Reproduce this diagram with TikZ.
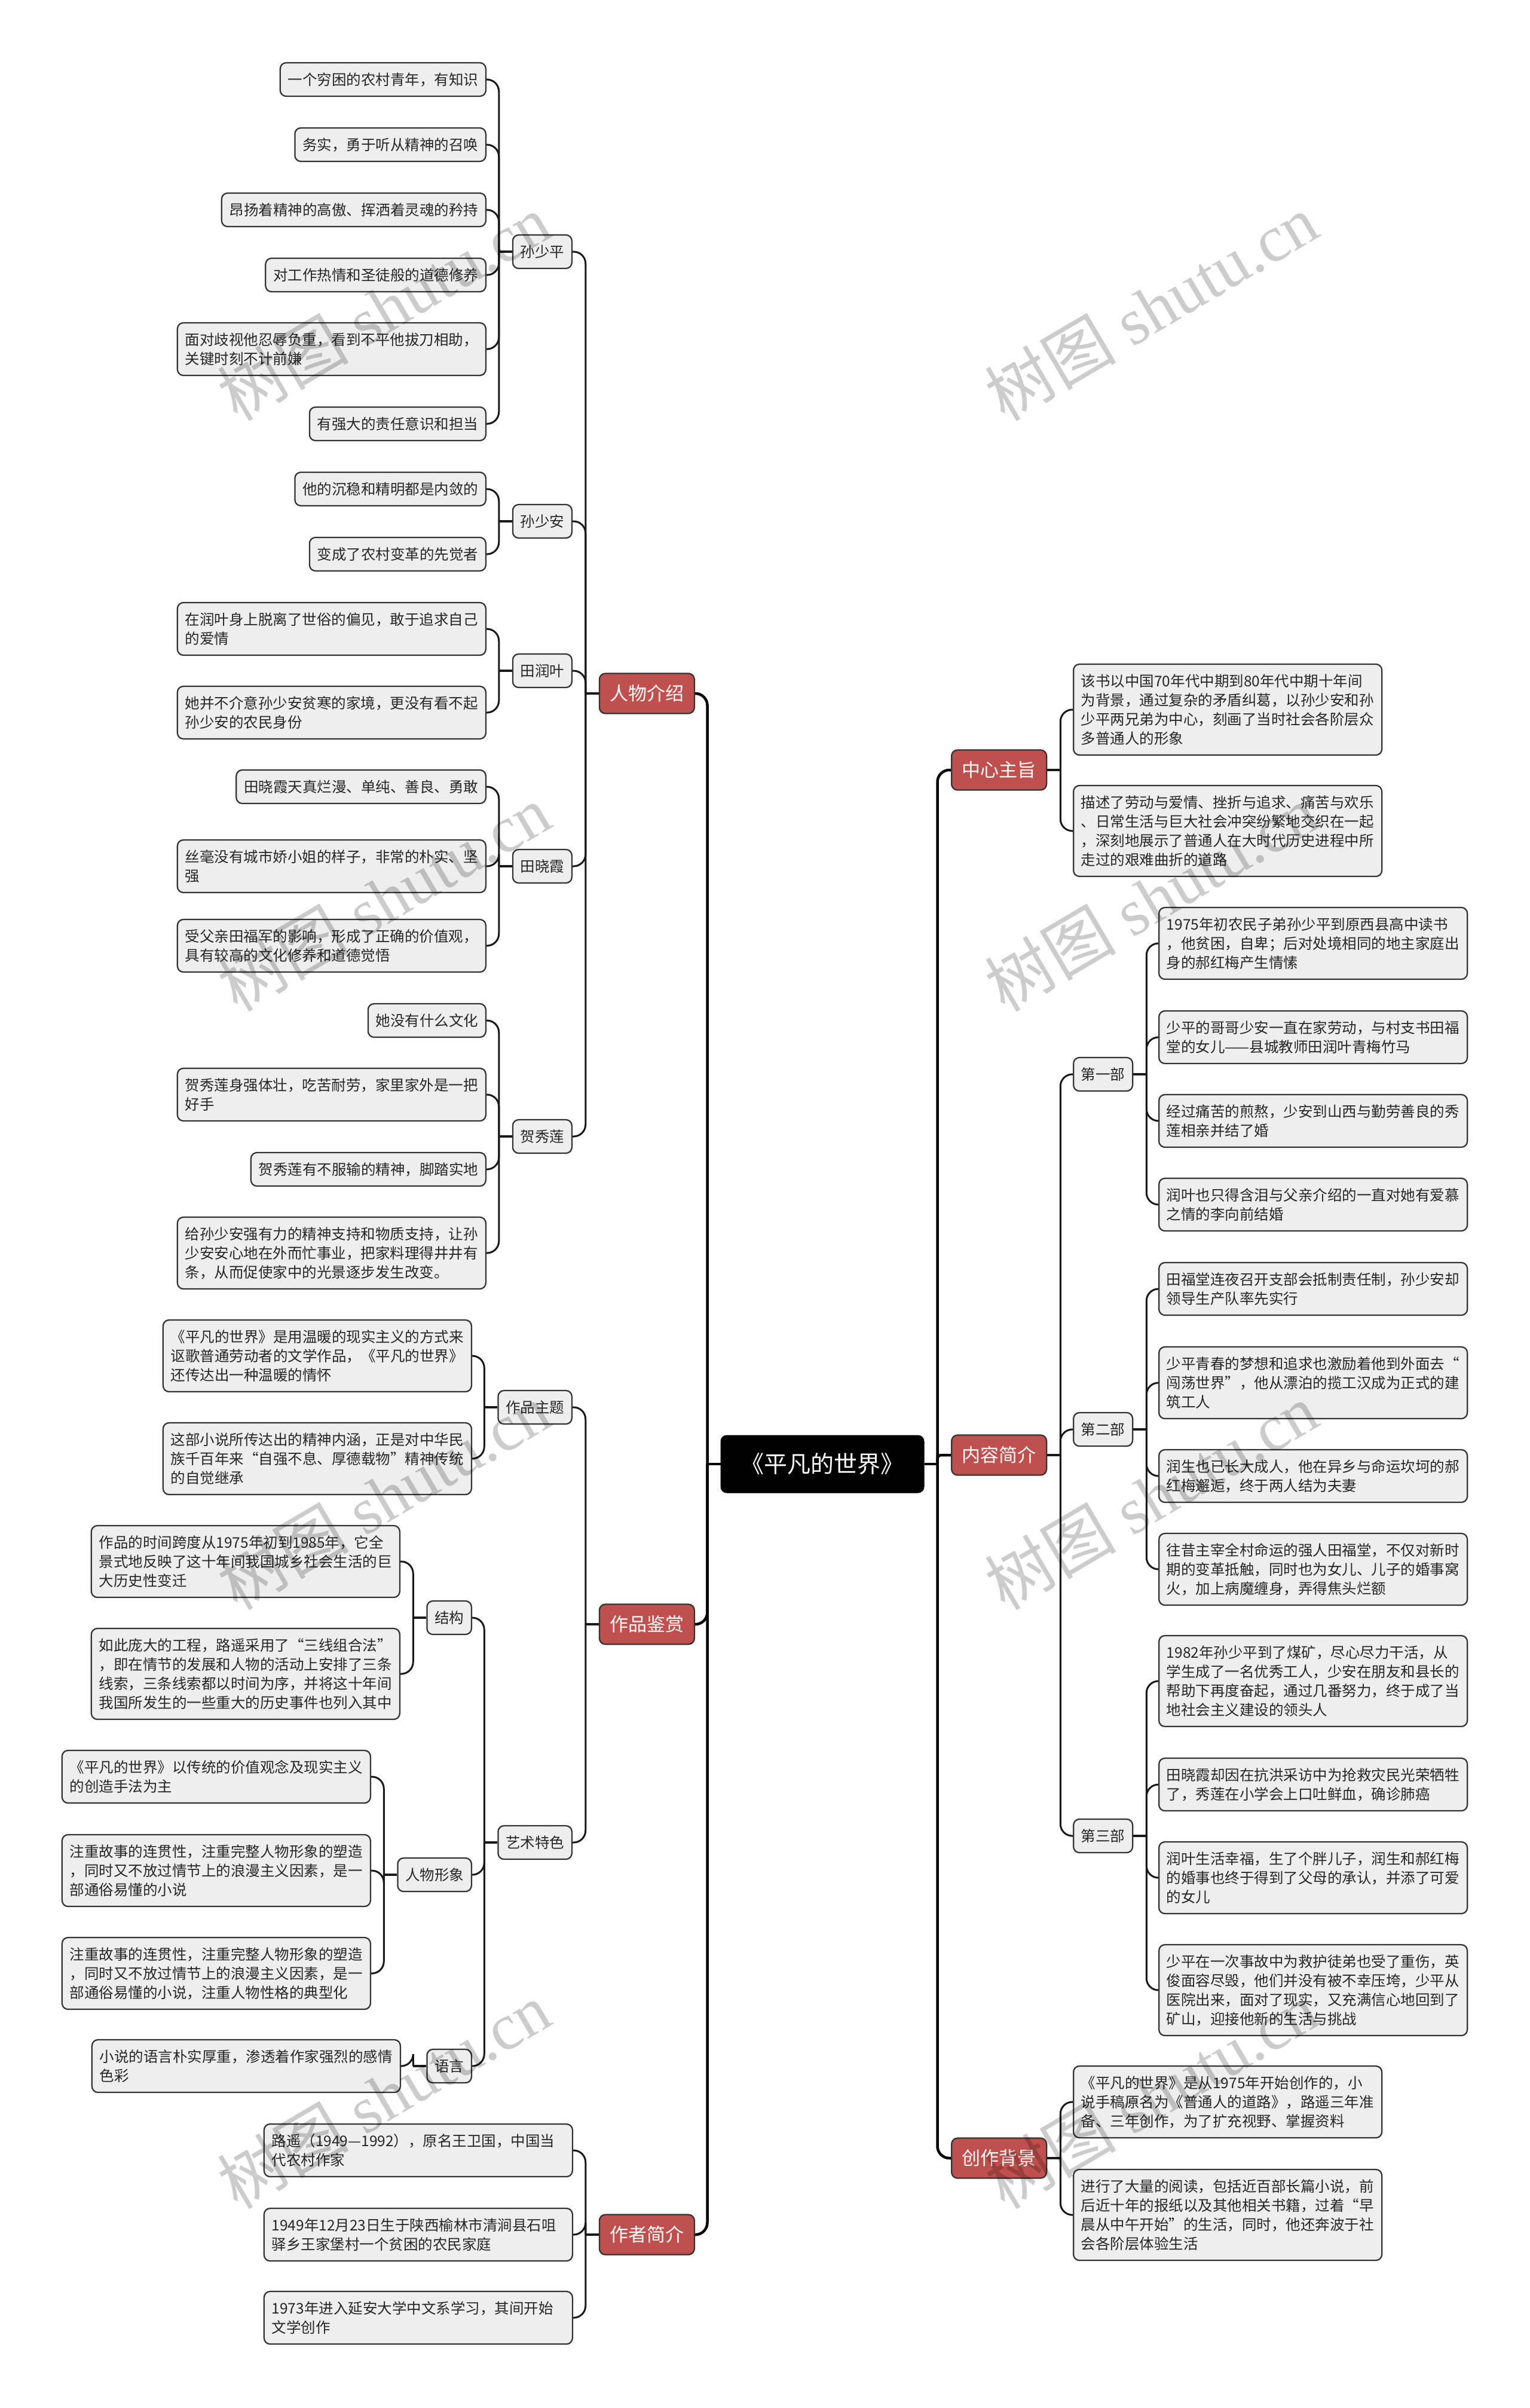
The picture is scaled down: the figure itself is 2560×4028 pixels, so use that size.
\documentclass[tikz,border=0pt]{standalone}
\usepackage{fontspec}
\setmainfont{Noto Sans CJK SC}
\newfontfamily\wmfont{Liberation Serif}
\definecolor{redc}{RGB}{192,80,77}
\definecolor{boxfill}{RGB}{238,238,238}
\definecolor{boxline}{RGB}{51,51,51}
\tikzset{
  boxbase/.style={draw=boxline, line width=0.9pt, rounded corners=4pt, fill=boxfill, inner xsep=5.1pt, inner ysep=0pt, font=\fontsize{9.8}{12.8}\selectfont, text=black!85},
  one/.style={boxbase, minimum height=22.4pt},
  two/.style={boxbase, minimum height=35.2pt, text width=196.2pt, align=left},
  three/.style={boxbase, minimum height=48pt, text width=196.2pt, align=left},
  four/.style={boxbase, minimum height=60.8pt, text width=196.2pt, align=left},
  topic/.style={draw=boxline, line width=0.9pt, rounded corners=4pt, fill=redc, text=white, font=\fontsize{12.4}{14}\selectfont, minimum width=63.6pt, minimum height=26.8pt, inner sep=0pt},
  rootbox/.style={fill=black, draw=black, rounded corners=4pt, text=white, font=\fontsize{15.6}{18}\selectfont, minimum width=136pt, minimum height=38.4pt, inner sep=0pt},
  conn/.style={line width=1.2pt, draw=black!90, rounded corners=8pt},
  stub/.style={line width=1.6pt, draw=black!90},
  mconn/.style={line width=1.8pt, draw=black, rounded corners=8pt},
  mstub/.style={line width=1.8pt, draw=black},
  wm/.style={rotate=30.5, text=black, text opacity=0.2, font=\fontsize{44}{44}\selectfont, inner sep=0pt},
}
\newcommand\MLconn[2]{%
  \draw[stub] (#1.west) -- ++(-22,0) coordinate (#1-s);
  \foreach \c in {#2} {\draw[conn] (#1-s) |- (\c.east);}
}
\newcommand\MRconn[2]{%
  \draw[stub] (#1.east) -- ++(22,0) coordinate (#1-s);
  \foreach \c in {#2} {\draw[conn] (#1-s) |- (\c.west);}
}
\begin{document}
\begin{tikzpicture}[x=0.4pt,y=-0.4pt]
\useasboundingbox (0,0) rectangle (2560,4028);
\fill[white] (0,0) rectangle (2560,4028);

% root and main topics
\node[rootbox] (root) at (1376,2449) {《平凡的世界》};
\node[topic,anchor=east] (rw) at (1163,1160) {人物介绍};
\node[topic,anchor=east] (zp) at (1163,2717) {作品鉴赏};
\node[topic,anchor=east] (zz) at (1163,3738) {作者简介};
\node[topic,anchor=west] (zx) at (1591,1288) {中心主旨};
\node[topic,anchor=west] (nr) at (1591,2434) {内容简介};
\node[topic,anchor=west] (cz) at (1591,3610) {创作背景};

% 人物介绍
\node[one,anchor=east] (sp) at (958,421) {孙少平};
\node[one,anchor=east] (sa) at (958,872) {孙少安};
\node[one,anchor=east] (ry) at (958,1122) {田润叶};
\node[one,anchor=east] (xx) at (958,1449) {田晓霞};
\node[one,anchor=east] (hx) at (958,1901) {贺秀莲};

\node[one,anchor=east] (sp1) at (814,133) {一个穷困的农村青年，有知识};
\node[one,anchor=east] (sp2) at (814,242) {务实，勇于听从精神的召唤};
\node[one,anchor=east] (sp3) at (814,351) {昂扬着精神的高傲、挥洒着灵魂的矜持};
\node[one,anchor=east] (sp4) at (814,460) {对工作热情和圣徒般的道德修养};
\node[two,anchor=east] (sp5) at (814,584) {面对歧视他忍辱负重，看到不平他拔刀相助，\\关键时刻不计前嫌};
\node[one,anchor=east] (sp6) at (814,709) {有强大的责任意识和担当};

\node[one,anchor=east] (sa1) at (814,818) {他的沉稳和精明都是内敛的};
\node[one,anchor=east] (sa2) at (814,927) {变成了农村变革的先觉者};

\node[two,anchor=east] (ry1) at (814,1052) {在润叶身上脱离了世俗的偏见，敢于追求自己\\的爱情};
\node[two,anchor=east] (ry2) at (814,1192) {她并不介意孙少安贫寒的家境，更没有看不起\\孙少安的农民身份};

\node[one,anchor=east] (xx1) at (814,1316) {田晓霞天真烂漫、单纯、善良、勇敢};
\node[two,anchor=east] (xx2) at (814,1449) {丝毫没有城市娇小姐的样子，非常的朴实、坚\\强};
\node[two,anchor=east] (xx3) at (814,1582) {受父亲田福军的影响，形成了正确的价值观，\\具有较高的文化修养和道德觉悟};

\node[one,anchor=east] (hx1) at (814,1707) {她没有什么文化};
\node[two,anchor=east] (hx2) at (814,1831) {贺秀莲身强体壮，吃苦耐劳，家里家外是一把\\好手};
\node[one,anchor=east] (hx3) at (814,1956) {贺秀莲有不服输的精神，脚踏实地};
\node[three,anchor=east] (hx4) at (814,2096) {给孙少安强有力的精神支持和物质支持，让孙\\少安安心地在外而忙事业，把家料理得井井有\\条，从而促使家中的光景逐步发生改变。};

% 作品鉴赏
\node[one,anchor=east] (zt) at (958,2354) {作品主题};
\node[one,anchor=east] (ys) at (958,3082) {艺术特色};
\node[three,anchor=east] (zt1) at (790,2268) {《平凡的世界》是用温暖的现实主义的方式来\\讴歌普通劳动者的文学作品，《平凡的世界》\\还传达出一种温暖的情怀};
\node[three,anchor=east] (zt2) at (790,2440) {这部小说所传达出的精神内涵，正是对中华民\\族千百年来“自强不息、厚德载物”精神传统\\的自觉继承};

\node[one,anchor=east] (jg) at (790,2706) {结构};
\node[one,anchor=east] (rx) at (790,3136) {人物形象};
\node[one,anchor=east] (yy) at (790,3456) {语言};

\node[three,anchor=east] (jg1) at (670,2612) {作品的时间跨度从1975年初到1985年，它全\\景式地反映了这十年间我国城乡社会生活的巨\\大历史性变迁};
\node[four,anchor=east] (jg2) at (670,2800) {如此庞大的工程，路遥采用了“三线组合法”\\，即在情节的发展和人物的活动上安排了三条\\线索，三条线索都以时间为序，并将这十年间\\我国所发生的一些重大的历史事件也列入其中};

\node[two,anchor=east] (rx1) at (621,2972) {《平凡的世界》以传统的价值观念及现实主义\\的创造手法为主};
\node[three,anchor=east] (rx2) at (621,3129) {注重故事的连贯性，注重完整人物形象的塑造\\，同时又不放过情节上的浪漫主义因素，是一\\部通俗易懂的小说};
\node[three,anchor=east] (rx3) at (621,3301) {注重故事的连贯性，注重完整人物形象的塑造\\，同时又不放过情节上的浪漫主义因素，是一\\部通俗易懂的小说，注重人物性格的典型化};

\node[two,anchor=east] (yy1) at (671,3456) {小说的语言朴实厚重，渗透着作家强烈的感情\\色彩};

% 作者简介
\node[two,anchor=east] (zz1) at (959,3597) {路遥（1949—1992），原名王卫国，中国当\\代农村作家};
\node[two,anchor=east] (zz2) at (959,3738) {1949年12月23日生于陕西榆林市清涧县石咀\\驿乡王家堡村一个贫困的农民家庭};
\node[two,anchor=east] (zz3) at (959,3877) {1973年进入延安大学中文系学习，其间开始\\文学创作};

% 中心主旨
\node[four,anchor=west] (zx1) at (1795,1187) {该书以中国70年代中期到80年代中期十年间\\为背景，通过复杂的矛盾纠葛，以孙少安和孙\\少平两兄弟为中心，刻画了当时社会各阶层众\\多普通人的形象};
\node[four,anchor=west] (zx2) at (1795,1390) {描述了劳动与爱情、挫折与追求、痛苦与欢乐\\、日常生活与巨大社会冲突纷繁地交织在一起\\，深刻地展示了普通人在大时代历史进程中所\\走过的艰难曲折的道路};

% 内容简介
\node[one,anchor=west] (d1) at (1795,1797) {第一部};
\node[one,anchor=west] (d2) at (1795,2391) {第二部};
\node[one,anchor=west] (d3) at (1795,3071) {第三部};

\node[three,anchor=west] (d1a) at (1938,1578) {1975年初农民子弟孙少平到原西县高中读书\\，他贫困，自卑；后对处境相同的地主家庭出\\身的郝红梅产生情愫};
\node[two,anchor=west] (d1b) at (1938,1735) {少平的哥哥少安一直在家劳动，与村支书田福\\堂的女儿——县城教师田润叶青梅竹马};
\node[two,anchor=west] (d1c) at (1938,1875) {经过痛苦的煎熬，少安到山西与勤劳善良的秀\\莲相亲并结了婚};
\node[two,anchor=west] (d1d) at (1938,2015) {润叶也只得含泪与父亲介绍的一直对她有爱慕\\之情的李向前结婚};

\node[two,anchor=west] (d2a) at (1938,2156) {田福堂连夜召开支部会抵制责任制，孙少安却\\领导生产队率先实行};
\node[three,anchor=west] (d2b) at (1938,2313) {少平青春的梦想和追求也激励着他到外面去“\\闯荡世界”，他从漂泊的揽工汉成为正式的建\\筑工人};
\node[two,anchor=west] (d2c) at (1938,2469) {润生也已长大成人，他在异乡与命运坎坷的郝\\红梅邂逅，终于两人结为夫妻};
\node[three,anchor=west] (d2d) at (1938,2625) {往昔主宰全村命运的强人田福堂，不仅对新时\\期的变革抵触，同时也为女儿、儿子的婚事窝\\火，加上病魔缠身，弄得焦头烂额};

\node[four,anchor=west] (d3a) at (1938,2812) {1982年孙少平到了煤矿，尽心尽力干活，从\\学生成了一名优秀工人，少安在朋友和县长的\\帮助下再度奋起，通过几番努力，终于成了当\\地社会主义建设的领头人};
\node[two,anchor=west] (d3b) at (1938,2985) {田晓霞却因在抗洪采访中为抢救灾民光荣牺牲\\了，秀莲在小学会上口吐鲜血，确诊肺癌};
\node[three,anchor=west] (d3c) at (1938,3141) {润叶生活幸福，生了个胖儿子，润生和郝红梅\\的婚事也终于得到了父母的承认，并添了可爱\\的女儿};
\node[four,anchor=west] (d3d) at (1938,3329) {少平在一次事故中为救护徒弟也受了重伤，英\\俊面容尽毁，他们并没有被不幸压垮，少平从\\医院出来，面对了现实，又充满信心地回到了\\矿山，迎接他新的生活与挑战};

% 创作背景
\node[three,anchor=west] (cz1) at (1795,3516) {《平凡的世界》是从1975年开始创作的，小\\说手稿原名为《普通人的道路》，路遥三年准\\备、三年创作，为了扩充视野、掌握资料};
\node[four,anchor=west] (cz2) at (1795,3705) {进行了大量的阅读，包括近百部长篇小说，前\\后近十年的报纸以及其他相关书籍，过着“早\\晨从中午开始”的生活，同时，他还奔波于社\\会各阶层体验生活};

% connectors: root
\draw[mstub] (root.west) -- ++(-22,0) coordinate (root-l);
\foreach \c in {rw,zp,zz} {\draw[mconn] (root-l) |- (\c.east);}
\draw[mstub] (root.east) -- ++(22,0) coordinate (root-r);
\foreach \c in {zx,cz} {\draw[mconn] (root-r) |- (\c.west);}
\draw[mconn,rounded corners=2.5pt] (root-r) |- (nr.west);

% connectors: left
\MLconn{rw}{sp,sa,ry,xx,hx}
\MLconn{sp}{sp1,sp2,sp3,sp4,sp5,sp6}
\MLconn{sa}{sa1,sa2}
\MLconn{ry}{ry1,ry2}
\MLconn{xx}{xx1,xx2,xx3}
\MLconn{hx}{hx1,hx2,hx3,hx4}
\MLconn{zp}{zt,ys}
\MLconn{zt}{zt1,zt2}
\MLconn{ys}{jg,rx,yy}
\MLconn{jg}{jg1,jg2}
\MLconn{rx}{rx1,rx2,rx3}
\MLconn{yy}{yy1}
\MLconn{zz}{zz1,zz2,zz3}

% connectors: right
\MRconn{zx}{zx1,zx2}
\MRconn{nr}{d1,d2,d3}
\MRconn{d1}{d1a,d1b,d1c,d1d}
\MRconn{d2}{d2a,d2b,d2c,d2d}
\MRconn{d3}{d3a,d3b,d3c,d3d}
\MRconn{cz}{cz1,cz2}

% watermarks
\foreach \wx/\wy [count=\i] in {642/514,1926/514,642/1502,1926/1502,642/2503,1926/2503,642/3505,1926/3505}{
  \node[wm] (wm\i) at (\wx,\wy) {树图\hspace{0.25em}{\wmfont shutu.cn}};
}
\end{tikzpicture}
\end{document}
